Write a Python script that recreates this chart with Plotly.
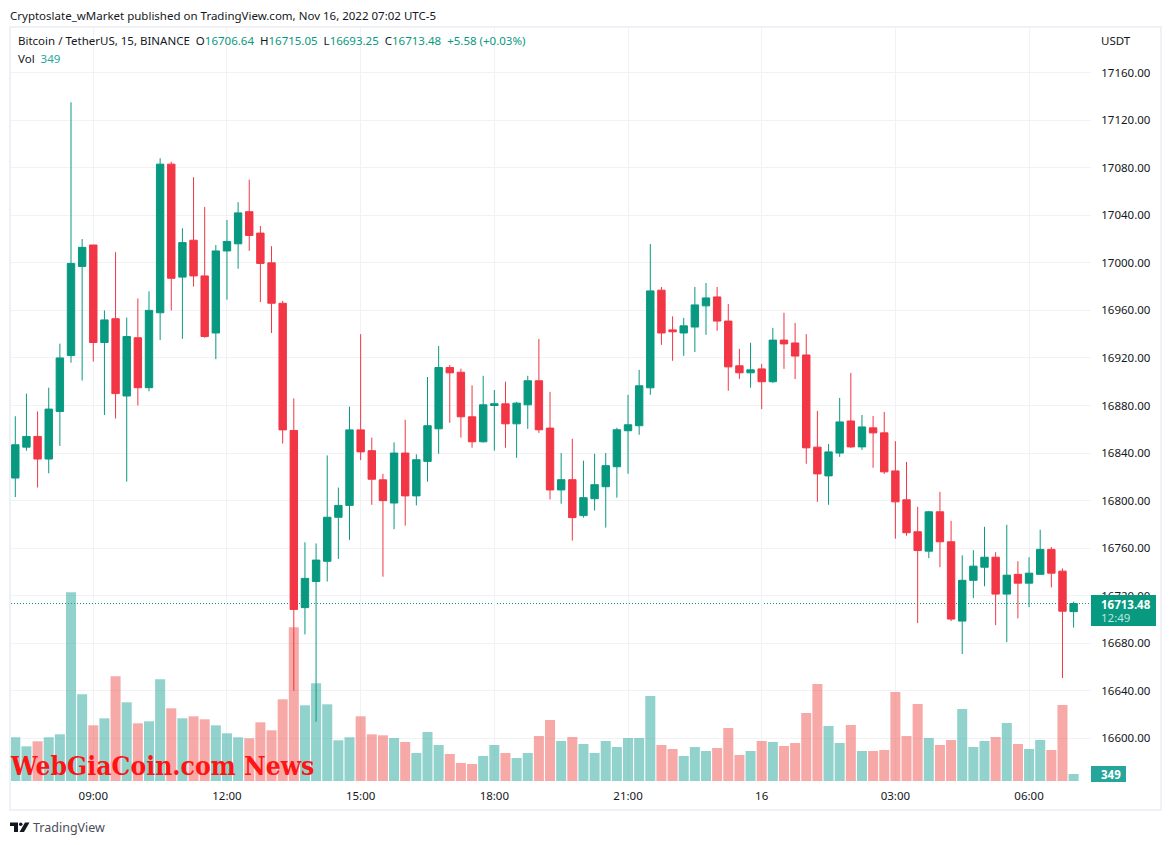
import pandas as pd
import plotly.graph_objects as go

# 15 minute candles, Nov 15 07:15 to Nov 16 07:00 (UTC-5)
times = pd.date_range("2022-11-15 07:15", periods=96, freq="15min")

opens = [16819, 16845, 16854, 16835, 16875, 16922, 16997, 17015, 16933, 16953, 16888, 16937,
         16895, 16958, 17083, 16988, 17019, 16989, 16941, 17010, 17016, 17043, 17025, 17000,
         16966, 16859, 16710, 16732, 16749, 16786, 16796, 16859.5, 16842, 16817.5, 16798, 16840,
         16804, 16833, 16860.4, 16912, 16908, 16870.5, 16849.5, 16880, 16881.4, 16864.6, 16880.6, 16900.8,
         16861, 16809, 16817.6, 16787.4, 16801.6, 16811.7, 16828.5, 16858.8, 16863, 16894.9, 16977, 16943.6,
         16941, 16946, 16963.8, 16971.3, 16951, 16913.4, 16907.5, 16910.8, 16900, 16935, 16932.6, 16922.5,
         16845, 16820.8, 16840, 16867, 16845.2, 16861.2, 16857, 16825, 16800.7, 16773.8, 16757.5, 16790.6,
         16765.4, 16698.7, 16733, 16744, 16752.4, 16721.4, 16738, 16730.6, 16738, 16759, 16740.7, 16706.64]
highs = [16871, 16890, 16875, 16895, 16932, 17135, 17020, 17015, 16960, 17009, 16954, 16970,
         16976, 17088, 17085, 17029, 17072, 17047, 17015, 17036, 17051, 17070, 17031, 17014,
         16968, 16886, 16765, 16764, 16838, 16811, 16879, 16940, 16853, 16822.5, 16849, 16868,
         16839, 16904, 16930, 16914, 16911, 16897, 16905, 16893, 16900, 16883, 16905, 16936,
         16891.5, 16840, 16852, 16833.6, 16839.4, 16840, 16861.3, 16889, 16910, 17015.8, 16979.7, 16955,
         16953.7, 16979.7, 16983, 16979.7, 16965.4, 16927.6, 16932.7, 16915, 16945.3, 16958, 16949.4, 16940,
         16875.4, 16847.7, 16886.4, 16907.4, 16872, 16871.2, 16874.6, 16850, 16832.6, 16794.8, 16791.4, 16807.4,
         16783, 16754, 16758.3, 16778, 16756.6, 16779.7, 16749, 16752.4, 16775.5, 16761, 16743, 16715.05]
lows = [16803, 16842, 16811, 16823, 16846, 16916, 16901, 16917, 16872, 16869, 16816, 16880,
        16892, 16935, 16960, 16936, 16980, 16937, 16919, 16969, 16995, 17010, 16967, 16941,
        16848, 16640, 16687.5, 16614, 16732, 16751, 16767, 16834, 16796.5, 16736, 16776, 16779,
        16796, 16816, 16839.4, 16865.5, 16853, 16844.5, 16848.7, 16842, 16844.5, 16836, 16860.4, 16857,
        16801, 16797.4, 16766.4, 16785.7, 16791.6, 16777.3, 16802.5, 16822.6, 16855.4, 16889, 16931, 16917.6,
        16921.8, 16925, 16939.4, 16942.8, 16892.4, 16902.4, 16895, 16877, 16899, 16910.8, 16902.3, 16831,
        16799, 16796.5, 16836.8, 16844.4, 16842.7, 16827.6, 16822.5, 16768, 16770.5, 16697, 16751.6, 16744,
        16698.7, 16671, 16718, 16728, 16695.3, 16681, 16701, 16710.4, 16738, 16727, 16650.8, 16693.25]
closes = [16847, 16854, 16835, 16877, 16920, 16999.5, 17013, 16933, 16952, 16890, 16938, 16895,
          16960, 17083, 16987, 17017, 16989, 16938, 17010, 17018, 17042, 17023, 16999.5, 16966,
          16859.5, 16708.5, 16734.6, 16750, 16786, 16796, 16859.5, 16841, 16818, 16800, 16840, 16804,
          16834.4, 16863, 16912, 16907.5, 16870.5, 16849.5, 16880.6, 16881.5, 16864.6, 16882, 16900.8, 16859.6,
          16809, 16817.6, 16785.7, 16802.5, 16813.4, 16829.4, 16859.6, 16863.8, 16896.6, 16976.4, 16941, 16942,
          16947, 16964.6, 16970.5, 16951, 16912.5, 16907.5, 16910, 16900, 16935, 16931.8, 16921.6, 16844.4,
          16822.5, 16841, 16866.2, 16845.2, 16862, 16857, 16824.2, 16799, 16773, 16758, 16790.6, 16765.4,
          16700.4, 16733, 16744.9, 16752.4, 16721.4, 16737.3, 16730.6, 16739, 16759, 16739, 16707, 16713.48]
volumes = [2185, 1735, 1985, 2185, 2335, 9435, 4335, 2785, 3135, 5235, 3935, 2885,
           2985, 5085, 3635, 3135, 3235, 3085, 2785, 2385, 2185, 2135, 2935, 2535,
           4085, 7685, 3785, 4885, 3835, 2035, 2185, 3235, 2335, 2285, 2150, 1950,
           1400, 2450, 1800, 1350, 900, 850, 1250, 1800, 1400, 1150, 1400, 2250,
           3050, 2000, 2200, 1850, 1400, 2000, 1700, 2150, 2150, 4250, 1800, 1600,
           1250, 1700, 1500, 1650, 2650, 1300, 1500, 2000, 1950, 1750, 1900, 3400,
           4850, 2750, 1900, 2800, 1500, 1500, 1550, 4450, 2250, 3850, 2150, 1800,
           2050, 3600, 1700, 2000, 2200, 2900, 1850, 1600, 2050, 1550, 3800, 349]

price_ticks = [16600, 16640, 16680, 16720, 16760, 16800, 16840, 16880, 16920, 16960,
               17000, 17040, 17080, 17120, 17160]
time_ticks = ["2022-11-15 09:00", "2022-11-15 12:00", "2022-11-15 15:00", "2022-11-15 18:00",
              "2022-11-15 21:00", "2022-11-16 00:00", "2022-11-16 03:00", "2022-11-16 06:00"]
time_labels = ["09:00", "12:00", "15:00", "18:00", "21:00", "16", "03:00", "06:00"]

GREEN = "#089981"
RED = "#F23645"
TEXT = "#131722"
GRID = "#f1f2f6"
FONT = "Noto Sans"

# plot area in pixels
LEFT, RIGHT, TOP, BOTTOM = 11, 1091, 28, 781


def px(x):
    return (x - LEFT) / (RIGHT - LEFT)


def py(y):
    return (BOTTOM - y) / (BOTTOM - TOP)


def label(x, y, text, color=TEXT, size=11.5, **kw):
    # annotations carry about 2px of padding, so pull the anchor back
    return dict(xref="paper", yref="paper", x=px(x - 2), y=py(y), text=text, showarrow=False,
                xanchor=kw.pop("xanchor", "left"), yanchor="middle", align="left",
                font=dict(family=kw.pop("family", FONT), size=size, color=color), **kw)


vol_colors = ["rgba(38,166,154,0.5)" if c >= o else "rgba(239,83,80,0.5)"
              for o, c in zip(opens, closes)]

fig = go.Figure()
fig.add_trace(go.Bar(x=times, y=volumes, marker_color=vol_colors, marker_line_width=0, yaxis="y"))
fig.add_trace(go.Candlestick(
    x=times, open=opens, high=highs, low=lows, close=closes, yaxis="y2",
    whiskerwidth=0,
    increasing=dict(line=dict(color=GREEN, width=1), fillcolor=GREEN),
    decreasing=dict(line=dict(color=RED, width=1), fillcolor=RED),
))

sep = "\u00a0\u00a0"
def val(s):
    return f'<span style="color:{GREEN}">{s}</span>'

ohlc = (f"Bitcoin / TetherUS, 15, BINANCE{sep}O{val('16706.64')}{sep}H{val('16715.05')}{sep}"
        f"L{val('16693.25')}{sep}C{val('16713.48')}{sep}{val('+5.58 (+0.03%)')}")

fig.update_layout(
    width=1171, height=845,
    margin=dict(l=LEFT, r=1171 - RIGHT, t=TOP, b=845 - BOTTOM, autoexpand=False),
    paper_bgcolor="white", plot_bgcolor="white",
    showlegend=False, bargap=0.1, boxgap=0.05,
    font=dict(family=FONT, size=11.5, color=TEXT),
    xaxis=dict(type="date", range=["2022-11-15 07:09:12", "2022-11-16 07:23:24"],
               tickmode="array", tickvals=time_ticks, ticktext=time_labels,
               showgrid=True, gridcolor=GRID, gridwidth=1, zeroline=False, showline=False,
               rangeslider=dict(visible=False), ticks="outside", ticklen=4,
               tickcolor="rgba(0,0,0,0)"),
    yaxis=dict(range=[0, 37650], visible=False, fixedrange=True),
    yaxis2=dict(overlaying="y", side="right", range=[16564.2, 17197.5],
                tickmode="array", tickvals=price_ticks, tickformat=".2f",
                showgrid=True, gridcolor=GRID, gridwidth=1, zeroline=False, showline=False,
                ticks="outside", ticklen=7, tickcolor="rgba(0,0,0,0)"),
    shapes=[
        # chart frame
        dict(type="rect", xref="paper", yref="paper", x0=px(10), x1=px(1161), y0=py(27), y1=py(810),
             line=dict(color="#f0f1f6", width=2), fillcolor="rgba(0,0,0,0)"),
        # last price line
        dict(type="line", xref="paper", yref="y2", x0=0, x1=1, y0=16713.48, y1=16713.48,
             line=dict(color=GREEN, width=1, dash="1px,2px"), layer="below"),
        # price and volume tags
        dict(type="rect", xref="paper", yref="paper", x0=px(1091), x1=px(1156), y0=py(595), y1=py(626),
             line_width=0, fillcolor=GREEN),
        dict(type="rect", xref="paper", yref="paper", x0=px(1091), x1=px(1126), y0=py(766), y1=py(782),
             line_width=0, fillcolor="#26a69a"),
        # TradingView logo
        dict(type="path", xref="paper", yref="paper", line_width=0, fillcolor=TEXT,
             path=f"M {px(10)} {py(822.5)} L {px(18)} {py(822.5)} L {px(18)} {py(832)} L {px(14)} {py(832)} "
                  f"L {px(14)} {py(826)} L {px(10)} {py(826)} Z"),
        dict(type="path", xref="paper", yref="paper", line_width=0, fillcolor=TEXT,
             path=f"M {px(25)} {py(822.5)} L {px(29.5)} {py(822.5)} L {px(24)} {py(832)} L {px(19.5)} {py(832)} Z"),
        dict(type="circle", xref="paper", yref="paper", line_width=0, fillcolor=TEXT,
             x0=px(19), x1=px(22.5), y0=py(822.5), y1=py(826)),
    ],
    annotations=[
        label(10, 15, "Cryptoslate_wMarket published on TradingView.com, Nov 16, 2022 07:02 UTC-5"),
        label(18, 41, ohlc),
        label(18, 59, f'Vol{sep}<span style="color:#26a69a">349</span>'),
        label(1101, 41, "USDT"),
        label(1101, 604, "<b>16713.48</b>", color="white"),
        label(1101, 617, "12:49", color="rgba(255,255,255,0.75)"),
        label(1101, 774, "<b>349</b>", color="white"),
        label(33, 827, "TradingView", color="#4a4e59", size=12.5),
        label(10, 765, "<b>WebGiaCoin.com News</b>", color="#ff1414", size=26.3,
              family="DejaVu Serif Condensed"),
    ],
)

fig.write_html("out.html", config=dict(displayModeBar=False),
               post_script="document.body.style.margin='0';document.body.style.overflow='hidden';")
